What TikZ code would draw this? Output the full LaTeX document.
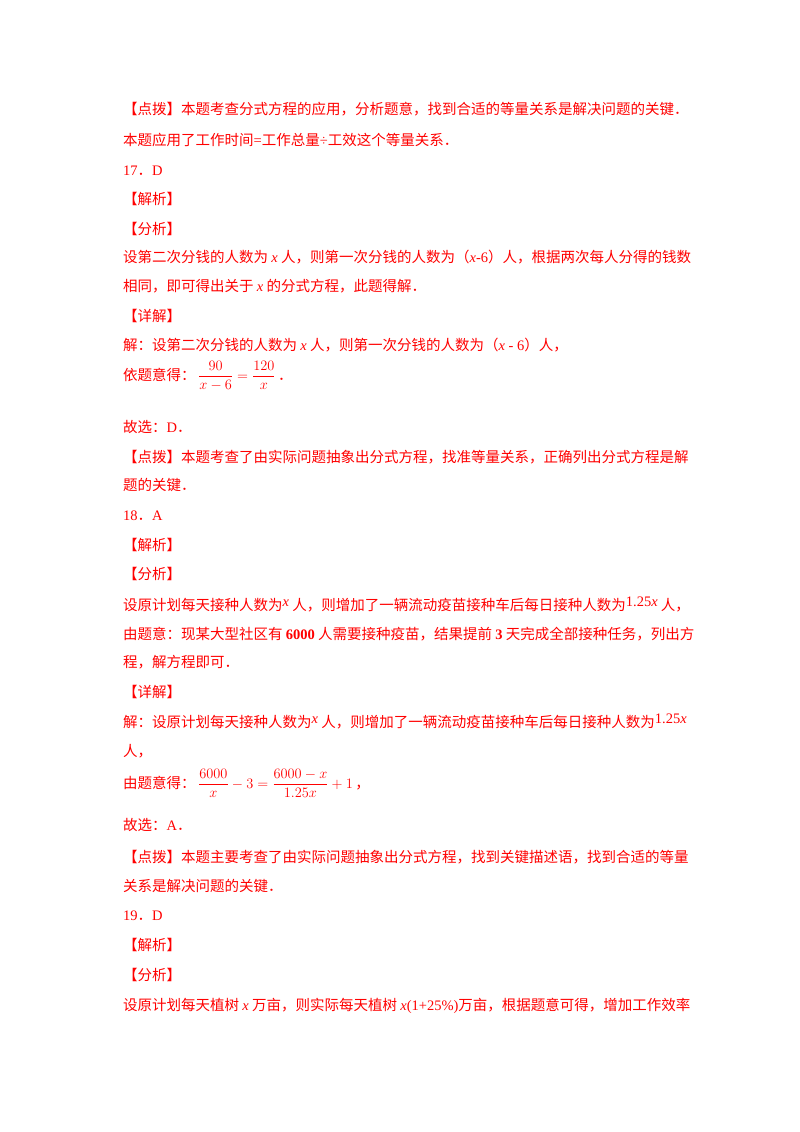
\documentclass[tikz,border=0pt]{standalone}
\usepackage{amsmath}
\usepackage{fontspec}
\setmainfont{Noto Sans CJK SC}
\newfontfamily\tn{Liberation Serif}
\newcommand{\vx}{\textit{\tn x}}
\newcommand{\upx}[1]{\raisebox{4pt}{\tn #1}}
\begin{document}
\begin{tikzpicture}[x=1pt,y=-1pt,
  ln/.style={anchor=base west,inner sep=0pt,text=red,font=\fontsize{14.5}{17}\selectfont}]
\useasboundingbox (0,0) rectangle (800,1132);
\node[ln] (l1) at (123,114) {【点拨】本题考查分式方程的应用，分析题意，找到合适的等量关系是解决问题的关键．};
\node[ln] (l2) at (123,145) {本题应用了工作时间{\tn =}工作总量{\tn ÷}工效这个等量关系．};
\node[ln] (l3) at (123,175) {{\tn 17}．{\tn D}};
\node[ln] (l4) at (123,204) {【解析】};
\node[ln] (l5) at (123,234) {【分析】};
\node[ln] (l6) at (123,262) {设第二次分钱的人数为 \vx\ 人，则第一次分钱的人数为（\vx{\tn -6}）人，根据两次每人分得的钱数};
\node[ln] (l7) at (123,291) {相同，即可得出关于 \vx\ 的分式方程，此题得解．};
\node[ln] (l8) at (123,321) {【详解】};
\node[ln] (l9) at (123,350) {解：设第二次分钱的人数为 \vx\ 人，则第一次分钱的人数为（\vx{\tn\ - 6}）人，};
\node[ln] (l10) at (123,380) {依题意得：\,$\dfrac{90}{x-6}=\dfrac{120}{x}$\,．};
\node[ln] (l11) at (123,432) {故选：{\tn D}．};
\node[ln] (l12) at (123,462) {【点拨】本题考查了由实际问题抽象出分式方程，找准等量关系，正确列出分式方程是解};
\node[ln] (l13) at (123,490) {题的关键．};
\node[ln] (l14) at (123,520) {{\tn 18}．{\tn A}};
\node[ln] (l15) at (123,550) {【解析】};
\node[ln] (l16) at (123,579) {【分析】};
\node[ln] (l17) at (123,610) {设原计划每天接种人数为\upx{\itshape x} 人，则增加了一辆流动疫苗接种车后每日接种人数为\upx{1.25\textit{x}} 人，};
\node[ln] (l18) at (123,639) {由题意：现某大型社区有 {\tn\bfseries 6000} 人需要接种疫苗，结果提前 {\tn\bfseries 3} 天完成全部接种任务，列出方};
\node[ln] (l19) at (123,667) {程，解方程即可．};
\node[ln] (l20) at (123,697) {【详解】};
\node[ln] (l21) at (123,727) {解：设原计划每天接种人数为\upx{\itshape x} 人，则增加了一辆流动疫苗接种车后每日接种人数为\upx{1.25\textit{x}}};
\node[ln] (l22) at (123,756) {人，};
\node[ln] (l23) at (123,788) {由题意得：\,$\dfrac{6000}{x}-3=\dfrac{6000-x}{1.25x}+1$\,，};
\node[ln] (l24) at (123,830) {故选：{\tn A}．};
\node[ln] (l25) at (123,862) {【点拨】本题主要考查了由实际问题抽象出分式方程，找到关键描述语，找到合适的等量};
\node[ln] (l26) at (123,891) {关系是解决问题的关键．};
\node[ln] (l27) at (123,920) {{\tn 19}．{\tn D}};
\node[ln] (l28) at (123,950) {【解析】};
\node[ln] (l29) at (123,980) {【分析】};
\node[ln] (l30) at (123,1010) {设原计划每天植树 \vx\ 万亩，则实际每天植树 \vx{\tn (1+25\%)}万亩，根据题意可得，增加工作效率};
\end{tikzpicture}
\end{document}
